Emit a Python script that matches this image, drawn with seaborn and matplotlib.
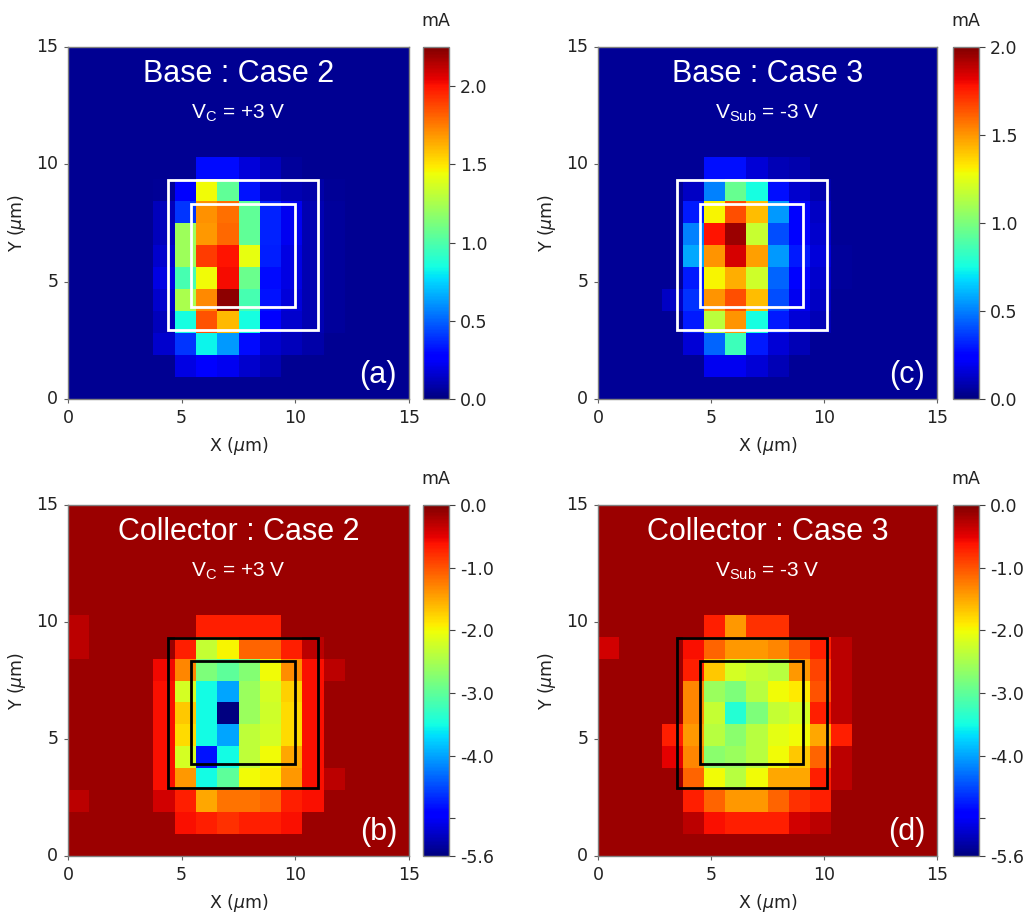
import numpy as np
import matplotlib
matplotlib.use("Agg")
import matplotlib.pyplot as plt
from matplotlib.patches import Rectangle
import seaborn as sns

sns.set_style("white")
plt.rcParams['font.family'] = ['DejaVu Sans']

# ---------------- data (16 x 16 cells over 15 x 15 um, rows listed top -> bottom) -------------
base_case2 = [
    [.04, .04, .04, .04, .04, .04, .04, .04, .04, .04, .04, .04, .04, .04, .04, .04],
    [.04, .04, .04, .04, .04, .04, .04, .04, .04, .04, .04, .04, .04, .04, .04, .04],
    [.04, .04, .04, .04, .04, .04, .04, .04, .04, .04, .04, .04, .04, .04, .04, .04],
    [.04, .04, .04, .04, .04, .04, .04, .04, .04, .04, .04, .04, .04, .04, .04, .04],
    [.04, .04, .04, .04, .04, .04, .04, .04, .04, .04, .04, .04, .04, .04, .04, .04],
    [.04, .04, .04, .04, .04, .04, .30, .30, .18, .12, .06, .04, .04, .04, .04, .04],
    [.04, .04, .04, .04, .05, .25, 1.45, 1.05, .32, .14, .10, .08, .05, .04, .04, .04],
    [.04, .04, .04, .04, .12, .40, 1.70, 1.78, 1.05, .36, .22, .10, .06, .04, .04, .04],
    [.04, .04, .04, .04, .12, 1.22, 1.68, 1.80, 1.05, .36, .22, .10, .06, .04, .04, .04],
    [.04, .04, .04, .04, .15, 1.22, 1.90, 2.00, 1.42, .35, .20, .10, .06, .04, .04, .04],
    [.04, .04, .04, .04, .20, .98, 1.45, 2.02, 1.08, .30, .20, .10, .06, .04, .04, .04],
    [.04, .04, .04, .04, .15, 1.25, 1.72, 2.22, .98, .32, .18, .10, .06, .04, .04, .04],
    [.04, .04, .04, .04, .12, .85, 1.85, 1.60, .85, .25, .15, .10, .06, .04, .04, .04],
    [.04, .04, .04, .04, .15, .40, .82, .62, .30, .15, .12, .08, .04, .04, .04, .04],
    [.04, .04, .04, .04, .04, .20, .25, .22, .15, .10, .04, .04, .04, .04, .04, .04],
    [.04, .04, .04, .04, .04, .04, .04, .04, .04, .04, .04, .04, .04, .04, .04, .04],
]

base_case3 = [
    [.04, .04, .04, .04, .04, .04, .04, .04, .04, .04, .04, .04, .04, .04, .04, .04],
    [.04, .04, .04, .04, .04, .04, .04, .04, .04, .04, .04, .04, .04, .04, .04, .04],
    [.04, .04, .04, .04, .04, .04, .04, .04, .04, .04, .04, .04, .04, .04, .04, .04],
    [.04, .04, .04, .04, .04, .04, .04, .04, .04, .04, .04, .04, .04, .04, .04, .04],
    [.04, .04, .04, .04, .04, .04, .04, .04, .04, .04, .04, .04, .04, .04, .04, .04],
    [.04, .04, .04, .04, .04, .28, .28, .15, .10, .08, .04, .04, .04, .04, .04, .04],
    [.04, .04, .04, .04, .12, .50, .95, .75, .28, .14, .08, .04, .04, .04, .04, .04],
    [.04, .04, .04, .04, .30, 1.30, 1.65, 1.42, .55, .25, .12, .04, .04, .04, .04, .04],
    [.04, .04, .04, .04, .50, 1.78, 1.95, 1.18, .40, .25, .14, .04, .04, .04, .04, .04],
    [.04, .04, .04, .04, .58, 1.50, 1.85, 1.48, .55, .30, .16, .05, .04, .04, .04, .04],
    [.04, .04, .04, .04, .30, 1.30, 1.45, 1.20, .45, .25, .14, .05, .04, .04, .04, .04],
    [.04, .04, .04, .12, .35, 1.50, 1.65, 1.42, .40, .20, .12, .04, .04, .04, .04, .04],
    [.04, .04, .04, .04, .30, 1.15, 1.50, .75, .30, .15, .10, .04, .04, .04, .04, .04],
    [.04, .04, .04, .04, .15, .45, .85, .30, .15, .10, .04, .04, .04, .04, .04, .04],
    [.04, .04, .04, .04, .04, .20, .20, .15, .10, .04, .04, .04, .04, .04, .04, .04],
    [.04, .04, .04, .04, .04, .04, .04, .04, .04, .04, .04, .04, .04, .04, .04, .04],
]

collector_case2 = [
    [-.15, -.15, -.15, -.15, -.15, -.15, -.15, -.15, -.15, -.15, -.15, -.15, -.15, -.15, -.15, -.15],
    [-.15, -.15, -.15, -.15, -.15, -.15, -.15, -.15, -.15, -.15, -.15, -.15, -.15, -.15, -.15, -.15],
    [-.15, -.15, -.15, -.15, -.15, -.15, -.15, -.15, -.15, -.15, -.15, -.15, -.15, -.15, -.15, -.15],
    [-.15, -.15, -.15, -.15, -.15, -.15, -.15, -.15, -.15, -.15, -.15, -.15, -.15, -.15, -.15, -.15],
    [-.15, -.15, -.15, -.15, -.15, -.15, -.15, -.15, -.15, -.15, -.15, -.15, -.15, -.15, -.15, -.15],
    [-.30, -.15, -.15, -.15, -.15, -.15, -.70, -.70, -.70, -.70, -.15, -.15, -.15, -.15, -.15, -.15],
    [-.30, -.15, -.15, -.15, -.15, -.70, -2.30, -1.95, -1.10, -1.10, -.70, -.30, -.15, -.15, -.15, -.15],
    [-.15, -.15, -.15, -.15, -.55, -1.30, -2.80, -3.00, -2.75, -2.00, -1.35, -.60, -.30, -.15, -.15, -.15],
    [-.15, -.15, -.15, -.15, -.60, -2.20, -3.50, -4.00, -2.60, -2.20, -1.75, -.60, -.15, -.15, -.15, -.15],
    [-.15, -.15, -.15, -.15, -.60, -1.70, -3.50, -5.60, -2.60, -2.25, -1.80, -.60, -.15, -.15, -.15, -.15],
    [-.15, -.15, -.15, -.15, -.60, -1.80, -3.50, -4.00, -2.35, -2.20, -1.80, -.60, -.15, -.15, -.15, -.15],
    [-.15, -.15, -.15, -.15, -.60, -2.20, -4.80, -3.50, -2.35, -2.00, -1.50, -.60, -.15, -.15, -.15, -.15],
    [-.15, -.15, -.15, -.15, -.60, -1.40, -3.50, -3.00, -2.00, -1.90, -1.40, -.60, -.30, -.15, -.15, -.15],
    [-.30, -.15, -.15, -.15, -.40, -.70, -1.50, -1.20, -1.20, -1.10, -.70, -.60, -.15, -.15, -.15, -.15],
    [-.15, -.15, -.15, -.15, -.15, -.60, -.70, -.80, -.70, -.70, -.60, -.15, -.15, -.15, -.15, -.15],
    [-.15, -.15, -.15, -.15, -.15, -.15, -.15, -.15, -.15, -.15, -.15, -.15, -.15, -.15, -.15, -.15],
]

collector_case3 = [
    [-.15, -.15, -.15, -.15, -.15, -.15, -.15, -.15, -.15, -.15, -.15, -.15, -.15, -.15, -.15, -.15],
    [-.15, -.15, -.15, -.15, -.15, -.15, -.15, -.15, -.15, -.15, -.15, -.15, -.15, -.15, -.15, -.15],
    [-.15, -.15, -.15, -.15, -.15, -.15, -.15, -.15, -.15, -.15, -.15, -.15, -.15, -.15, -.15, -.15],
    [-.15, -.15, -.15, -.15, -.15, -.15, -.15, -.15, -.15, -.15, -.15, -.15, -.15, -.15, -.15, -.15],
    [-.15, -.15, -.15, -.15, -.15, -.15, -.15, -.15, -.15, -.15, -.15, -.15, -.15, -.15, -.15, -.15],
    [-.15, -.15, -.15, -.15, -.15, -.70, -1.40, -.80, -.80, -.15, -.15, -.15, -.15, -.15, -.15, -.15],
    [-.40, -.15, -.15, -.15, -.60, -1.10, -1.40, -1.40, -1.30, -1.00, -.70, -.30, -.15, -.15, -.15, -.15],
    [-.15, -.15, -.15, -.15, -.70, -1.70, -2.20, -2.30, -2.40, -1.40, -.90, -.30, -.15, -.15, -.15, -.15],
    [-.15, -.15, -.15, -.15, -1.30, -2.60, -2.80, -2.40, -2.00, -1.90, -1.00, -.30, -.15, -.15, -.15, -.15],
    [-.15, -.15, -.15, -.15, -1.30, -2.30, -3.40, -2.80, -2.30, -2.20, -.70, -.30, -.15, -.15, -.15, -.15],
    [-.15, -.15, -.15, -.70, -1.40, -2.40, -2.70, -2.40, -2.10, -2.00, -1.50, -.70, -.15, -.15, -.15, -.15],
    [-.15, -.15, -.15, -.50, -1.30, -2.70, -2.60, -2.40, -2.00, -1.70, -1.10, -.30, -.15, -.15, -.15, -.15],
    [-.15, -.15, -.15, -.15, -1.10, -2.00, -2.40, -2.00, -1.50, -1.50, -.70, -.30, -.15, -.15, -.15, -.15],
    [-.15, -.15, -.15, -.15, -.70, -1.10, -1.40, -1.40, -1.10, -.80, -.70, -.15, -.15, -.15, -.15, -.15],
    [-.15, -.15, -.15, -.15, -.30, -.60, -.70, -.70, -.70, -.40, -.30, -.15, -.15, -.15, -.15, -.15],
    [-.15, -.15, -.15, -.15, -.15, -.15, -.15, -.15, -.15, -.15, -.15, -.15, -.15, -.15, -.15, -.15],
]

titles = ["Base : Case 2", "Collector : Case 2", "Base : Case 3", "Collector : Case 3"]
subtitles = ["V$_\\mathregular{C}$ = +3 V", "V$_\\mathregular{C}$ = +3 V",
             "V$_\\mathregular{Sub}$ = -3 V", "V$_\\mathregular{Sub}$ = -3 V"]
panel_tags = ["(a)", "(b)", "(c)", "(d)"]
ranges = [(0.0, 2.25), (-5.6, 0.0), (0.0, 2.0), (-5.6, 0.0)]
cbar_ticks = [[0.0, 0.5, 1.0, 1.5, 2.0], [0.0, -1.0, -2.0, -3.0, -4.0, -5.0, -5.6],
              [0.0, 0.5, 1.0, 1.5, 2.0], [0.0, -1.0, -2.0, -3.0, -4.0, -5.0, -5.6]]
cbar_labels = [["0.0", "0.5", "1.0", "1.5", "2.0"], ["0.0", "-1.0", "-2.0", "-3.0", "-4.0", "", "-5.6"],
               ["0.0", "0.5", "1.0", "1.5", "2.0"], ["0.0", "-1.0", "-2.0", "-3.0", "-4.0", "", "-5.6"]]
axis_ticks = [0, 5, 10, 15]
# device outlines in um: (x0, x1, y0, y1)
outer_boxes = [(4.4, 11.0, 2.92, 9.32), (4.4, 11.0, 2.92, 9.32), (3.5, 10.12, 2.92, 9.32), (3.5, 10.12, 2.92, 9.32)]
inner_boxes = [(5.42, 10.0, 3.93, 8.32), (5.42, 10.0, 3.93, 8.32), (4.53, 9.08, 3.93, 8.32), (4.53, 9.08, 3.93, 8.32)]
box_colors = ["white", "black", "white", "black"]
datasets = [base_case2, collector_case2, base_case3, collector_case3]

# ---------------- layout (pixels) ----------------
W, H = 1027, 913
fig = plt.figure(figsize=(W / 100, H / 100), dpi=100)

def px_axes(left, top, w, h):
    return fig.add_axes([left / W, 1 - (top + h) / H, w / W, h / H])

ax_px = [(68, 47, 341, 352), (68, 505, 341, 351), (598, 47, 339, 352), (598, 505, 339, 351)]
cax_px = [(423, 47, 26, 352), (423, 505, 26, 351), (953, 47, 26, 352), (953, 505, 26, 351)]

L = 15.0
for k in range(4):
    data = np.array(datasets[k])
    n = data.shape[0]
    s = n / L
    ax = px_axes(*ax_px[k])
    cax = px_axes(*cax_px[k])
    vmin, vmax = ranges[k]
    sns.heatmap(data, ax=ax, cbar_ax=cax, cmap="jet", vmin=vmin, vmax=vmax,
                xticklabels=False, yticklabels=False)
    for sp in ax.spines.values():
        sp.set_visible(True)
        sp.set_color("#808080")
        sp.set_linewidth(1.0)
    ax.set_xticks([t * s for t in axis_ticks])
    ax.set_xticklabels([str(t) for t in axis_ticks])
    ax.set_yticks([(L - t) * s for t in axis_ticks])
    ax.set_yticklabels([str(t) for t in axis_ticks], rotation=0, va="center")
    ax.tick_params(axis="both", length=3, width=0.8, color="#606060",
                   labelsize=12.5, labelcolor="#222222", pad=4,
                   bottom=True, left=True)
    ax.set_xlabel("X ($\\mu$m)", fontsize=12.5, color="#222222", labelpad=6)
    ax.set_ylabel("Y ($\\mu$m)", fontsize=12.5, color="#222222", labelpad=6)

    # device outlines
    for box, lw in ((outer_boxes[k], 2.0), (inner_boxes[k], 2.0)):
        x0, x1, y0, y1 = box
        ax.add_patch(Rectangle((x0 * s, (L - y1) * s), (x1 - x0) * s, (y1 - y0) * s,
                               fill=False, edgecolor=box_colors[k], linewidth=lw))

    # texts
    ax.text(0.5, 0.922, titles[k], transform=ax.transAxes, ha="center", va="center",
            color="white", fontsize=22, family=["Liberation Sans", "DejaVu Sans"])
    ax.text(0.5, 0.812, subtitles[k], transform=ax.transAxes, ha="center", va="center",
            color="white", fontsize=15, family=["Liberation Sans", "DejaVu Sans"])
    ax.text(0.965, 0.068, panel_tags[k], transform=ax.transAxes, ha="right", va="center",
            color="white", fontsize=22, family=["Liberation Sans", "DejaVu Sans"])

    # colorbar
    cb = ax.collections[0].colorbar
    cb.set_ticks(cbar_ticks[k])
    cb.set_ticklabels(cbar_labels[k])
    cb.outline.set_visible(True)
    cb.outline.set_linewidth(1.0)
    cb.outline.set_edgecolor("#808080")
    cax.tick_params(length=4, width=0.8, color="#404040", labelsize=12.5,
                    labelcolor="#222222", pad=4)
    l, t, w, h = cax_px[k]
    fig.text((l + w / 2) / W, 1 - (t - 26) / H, "mA", ha="center", va="center",
             fontsize=12.5, color="#222222")

fig.savefig("out.png", dpi=100)
